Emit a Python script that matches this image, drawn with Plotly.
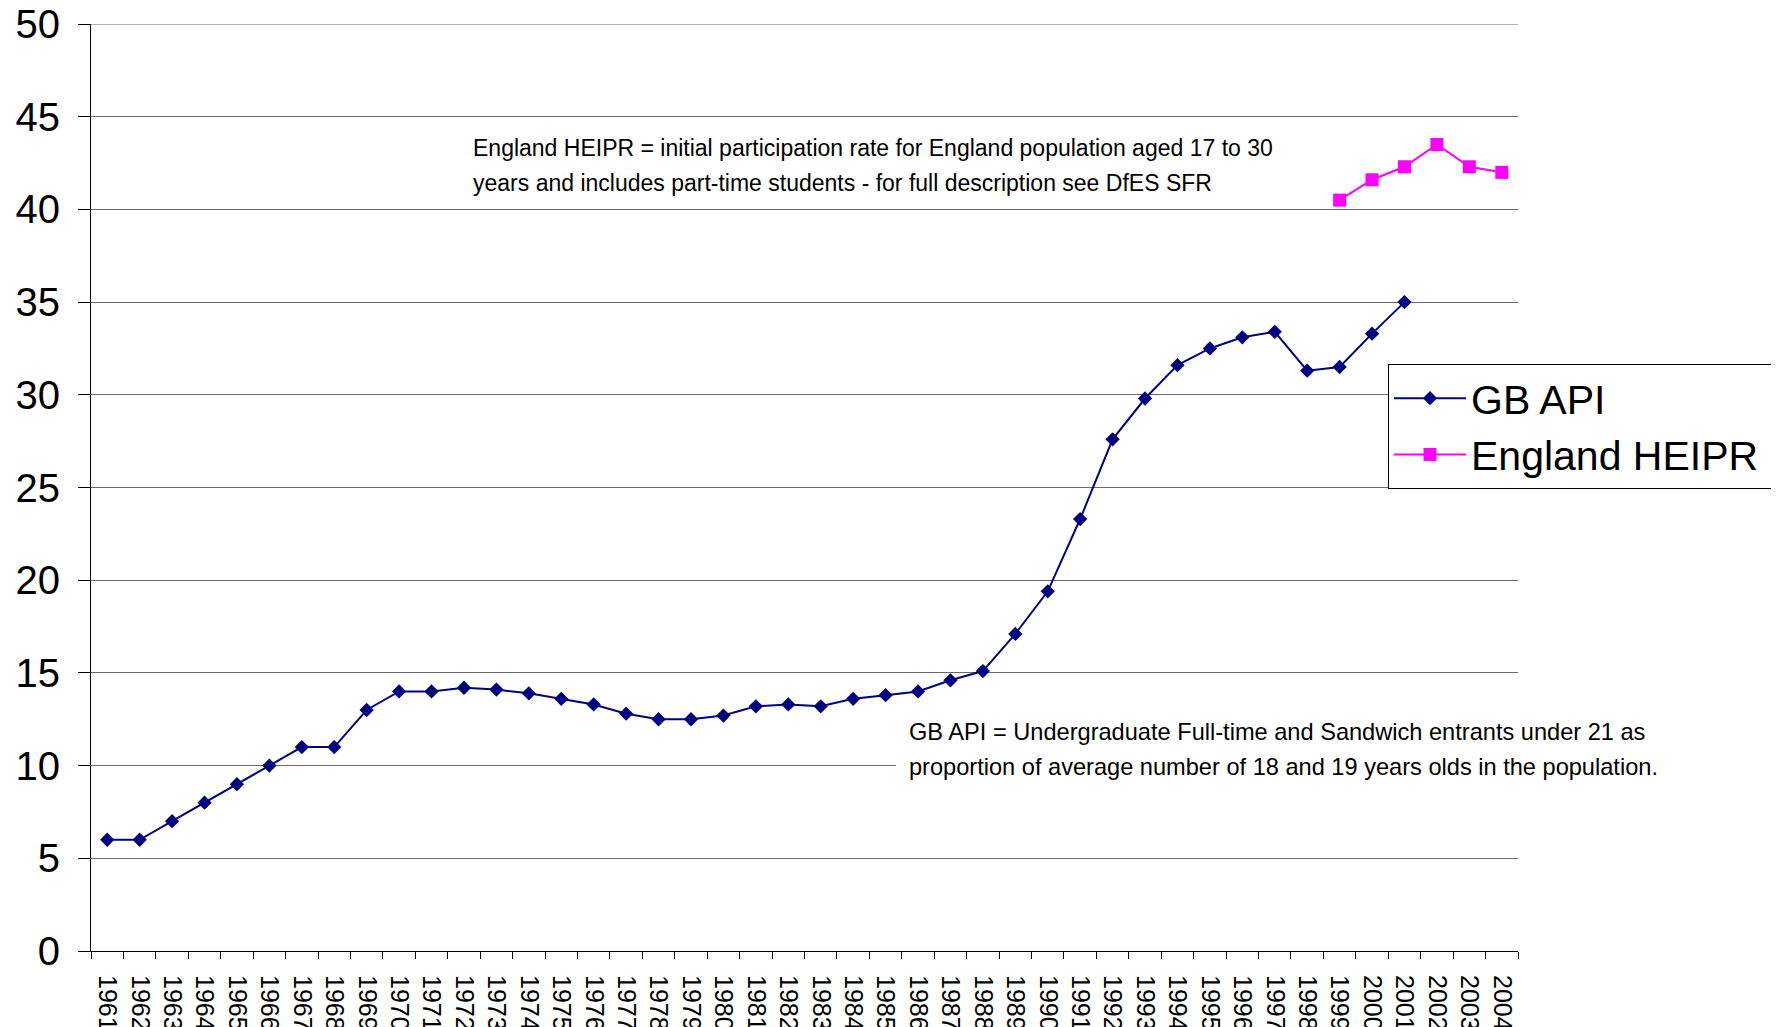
import plotly.graph_objects as go

years = [str(y) for y in range(1961, 2005)]
gb_api_years = [str(y) for y in range(1961, 2002)]
gb_api = [6.0, 6.0, 7.0, 8.0, 9.0, 10.0, 11.0, 11.0, 13.0, 14.0,
          14.0, 14.2, 14.1, 13.9, 13.6, 13.3, 12.8, 12.5, 12.5, 12.7,
          13.2, 13.3, 13.2, 13.6, 13.8, 14.0, 14.6, 15.1, 17.1, 19.4,
          23.3, 27.6, 29.8, 31.6, 32.5, 33.1, 33.4, 31.3, 31.5, 33.3,
          35.0]
heipr_years = ["1999", "2000", "2001", "2002", "2003", "2004"]
heipr = [40.5, 41.6, 42.3, 43.5, 42.3, 42.0]

note1 = ["England HEIPR = initial participation rate for England population aged 17 to 30",
         "years and includes part-time students - for full description see DfES SFR"]
note2 = ["GB API = Undergraduate Full-time and Sandwich entrants under 21 as",
         "proportion of average number of 18 and 19 years olds in the population."]

FONT = "Liberation Sans, Arial, sans-serif"
W, H = 1779, 1027
OFF = 8  # page body margin
# plot area in page pixel coordinates
L, R, T, B = 91, 1518, 24, 951
Y_MAX = 50
GRID = "#6a6a6a"

def px(x):
    return (x - L) / (R - L)

def py(y):
    return (B - y) / (B - T)

fig = go.Figure()
fig.add_trace(go.Scatter(
    x=gb_api_years, y=gb_api, name="GB API", mode="lines+markers",
    line=dict(color="#000080", width=2),
    marker=dict(symbol="diamond", size=11, color="#000080")))
fig.add_trace(go.Scatter(
    x=heipr_years, y=heipr, name="England HEIPR\u2009", mode="lines+markers",
    line=dict(color="#FF00FF", width=2),
    marker=dict(symbol="square", size=13, color="#FF00FF")))

annotations = []
for txt, y in zip(note1, [147.5, 182.7]):
    annotations.append(dict(xref="paper", yref="paper", x=px(471), y=py(y),
                            xanchor="left", yanchor="middle", text=txt, showarrow=False,
                            font=dict(family=FONT, size=23, color="black")))
for txt, y in zip(note2, [732, 767]):
    annotations.append(dict(xref="paper", yref="paper", x=px(907), y=py(y),
                            xanchor="left", yanchor="middle", text=txt, showarrow=False,
                            font=dict(family=FONT, size=23.6, color="black")))

shapes = [
    # top gridline (plotly omits the grid line at the range edge)
    dict(type="line", xref="paper", yref="y", x0=0, x1=1, y0=Y_MAX, y1=Y_MAX,
         line=dict(color=GRID, width=1), layer="below"),
    dict(type="rect", xref="paper", yref="y", x0=px(896), x1=1.0, y0=9.7, y1=10.3,
         fillcolor="white", line=dict(width=0), layer="above"),
    dict(type="rect", xref="paper", yref="paper", x0=px(1772), x1=px(1774),
         y0=py(H + 20), y1=py(-20), fillcolor="black", line=dict(width=0)),
]

fig.update_layout(
    width=W, height=H,
    margin=dict(l=L - OFF, r=W - (R - OFF), t=T - OFF, b=H - (B - OFF), autoexpand=False),
    paper_bgcolor="white", plot_bgcolor="white",
    font=dict(family=FONT, color="black"),
    showlegend=True,
    legend=dict(x=px(1388), y=py(364), xanchor="left", yanchor="top",
                bgcolor="white", bordercolor="black", borderwidth=1,
                font=dict(family=FONT, size=41, color="black"),
                itemwidth=72, tracegroupgap=0),
    annotations=annotations,
    shapes=shapes,
)
fig.update_xaxes(
    type="category", categoryorder="array", categoryarray=years,
    range=[-0.5, len(years) - 0.5], automargin=False,
    showgrid=False, showline=True, linecolor="black", linewidth=1,
    ticks="outside", tickson="boundaries", ticklen=7, tickcolor="black",
    tickangle=90, tickfont=dict(family=FONT, size=25, color="black"),
    ticklabelstandoff=18, zeroline=False, ticklabeloverflow="allow",
)
fig.update_yaxes(
    range=[0, Y_MAX + 0.001], dtick=5, tick0=0, automargin=False,
    showgrid=True, gridcolor=GRID, gridwidth=1,
    showline=True, linecolor="black", linewidth=1,
    ticks="outside", ticklen=12, tickcolor="black",
    tickfont=dict(family=FONT, size=40, color="black"),
    ticklabelstandoff=10, zeroline=False, ticklabeloverflow="allow",
)

fig.write_html("out.html")
